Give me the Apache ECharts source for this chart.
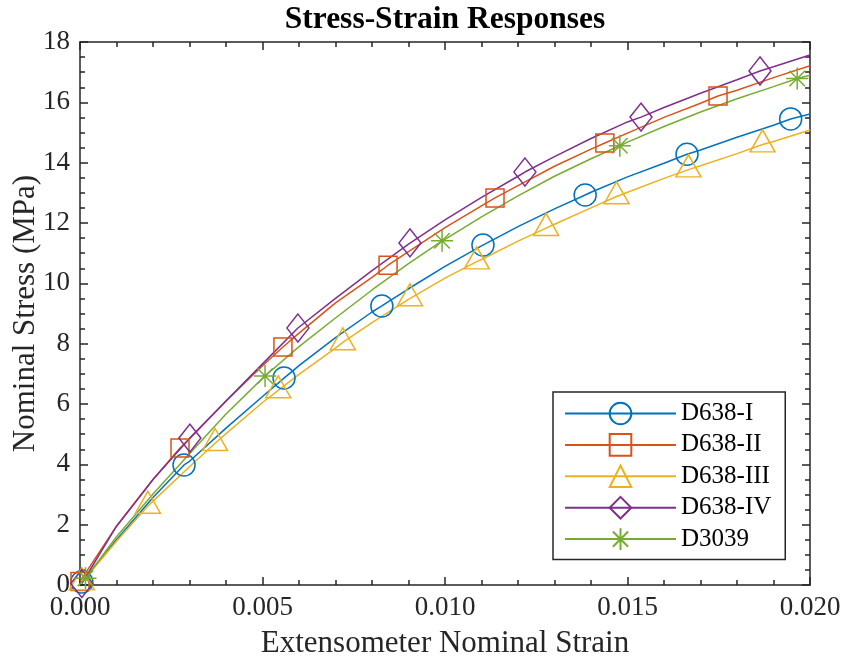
<!DOCTYPE html>
<html>
<head>
<meta charset="utf-8">
<script src="https://cdn.jsdelivr.net/npm/echarts@6/dist/echarts.min.js"></script>
<style>
html,body{margin:0;padding:0;background:#fff;}
#chart{width:844px;height:660px;}
</style>
</head>
<body>
<div id="chart"></div>
<script>
// ---- data ----
const strainGrid = [0.001,0.002,0.003,0.004,0.005,0.006,0.007,0.008,0.009,0.010,0.011,0.012,0.013,0.014,0.015,0.016,0.017,0.018,0.019,0.020];

const d638IStress   = [1.5,2.9,4.1,5.2,6.25,7.27,8.2,9.05,9.82,10.56,11.24,11.88,12.47,13.02,13.53,13.98,14.42,14.84,15.24,15.61];
const d638IMarkStrain = [0.00005,0.00285,0.00559,0.00827,0.01104,0.01384,0.01663,0.01947];
const d638IMarkStress = [0.1,3.98,6.86,9.25,11.27,12.93,14.28,15.45];

const d638IIStress  = [1.95,3.5,4.85,6.1,7.27,8.35,9.35,10.2,11.05,11.85,12.57,13.24,13.88,14.45,14.98,15.5,15.97,16.4,16.82,17.21];
const d638IIMarkStrain = [0.0,0.00274,0.00556,0.00844,0.01137,0.01438,0.01748];
const d638IIMarkStress = [0.12,4.54,7.89,10.6,12.83,14.65,16.21];

const d638IIIStress = [1.45,2.78,3.92,5.02,6.05,6.98,7.85,8.7,9.47,10.17,10.79,11.4,11.96,12.5,13.02,13.48,13.9,14.3,14.7,15.08];
const d638IIIMarkStrain = [0.00005,0.00186,0.0037,0.00543,0.0072,0.00904,0.01087,0.01277,0.0147,0.01667,0.0187];
const d638IIIMarkStress = [0.08,2.62,4.7,6.45,8.04,9.5,10.72,11.83,12.88,13.77,14.6];

const d638IVStress  = [1.95,3.5,4.86,6.1,7.33,8.5,9.5,10.42,11.3,12.1,12.85,13.55,14.2,14.8,15.35,15.83,16.3,16.75,17.18,17.57];
const d638IVMarkStrain = [0.00005,0.00301,0.00597,0.00904,0.01219,0.01537,0.01863];
const d638IVMarkStress = [0.05,4.87,8.52,11.34,13.69,15.51,17.04];

const d3039Stress   = [1.6,3.02,4.35,5.67,6.85,7.9,8.85,9.78,10.65,11.46,12.2,12.9,13.55,14.13,14.68,15.2,15.68,16.12,16.52,16.9];
const d3039MarkStrain = [0.00015,0.00507,0.00992,0.01479,0.01965];
const d3039MarkStress = [0.22,6.93,11.41,14.56,16.79];

const seriesNames = ['D638-I','D638-II','D638-III','D638-IV','D3039'];
const xTickValues = [0, 0.005, 0.010, 0.015, 0.020];
const yTickValues = [0,2,4,6,8,10,12,14,16,18];

// ---- build ----
function buildData(lineStress, markStrain, markStress){
  const pts = [];
  strainGrid.forEach((x,i)=>pts.push({value:[x,lineStress[i]], symbol:'none'}));
  markStrain.forEach((x,i)=>pts.push({value:[x,markStress[i]]}));
  pts.sort((a,b)=>a.value[0]-b.value[0]);
  return pts;
}
const colors = ['#0072BD','#D95319','#EDB120','#7E2F8E','#77AC30'];
const symbols = ['circle','rect','triangle','diamond','path://M0,-10L0,10M-10,0L10,0M-7.07,-7.07L7.07,7.07M-7.07,7.07L7.07,-7.07'];
const sizes = [22,18,[25,22],[22,28],22];
const offsets = [[0,0],[0,0],[0,-3.7],[0,0],[0,0]];
const datasets = [
  buildData(d638IStress,d638IMarkStrain,d638IMarkStress),
  buildData(d638IIStress,d638IIMarkStrain,d638IIMarkStress),
  buildData(d638IIIStress,d638IIIMarkStrain,d638IIIMarkStress),
  buildData(d638IVStress,d638IVMarkStrain,d638IVMarkStress),
  buildData(d3039Stress,d3039MarkStrain,d3039MarkStress)
];

const axisColor = '#262626';
const font = 'Liberation Serif';

function xAxisDef(pos, showLabel){
  return {
    type:'value', position:pos, min:0, max:0.02, interval:0.005,
    axisLine:{show:true, onZero:false, lineStyle:{color:axisColor, width:1.5}},
    axisTick:{show:true, inside:true, length:8, lineStyle:{color:axisColor, width:1.5}},
    minorTick:{show:true, splitNumber:5, length:5, lineStyle:{color:axisColor, width:1.5}},
    splitLine:{show:false},
    axisLabel:{show:showLabel, fontFamily:font, fontSize:27, color:axisColor, margin:9,
      formatter:v=>v.toFixed(3)},
    name: showLabel ? 'Extensometer Nominal Strain' : '',
    nameLocation:'middle', nameGap:43, nameMoveOverlap:false,
    nameTextStyle:{fontFamily:font, fontSize:31, color:axisColor}
  };
}
function yAxisDef(pos, showLabel){
  return {
    type:'value', position:pos, min:0, max:18, interval:2,
    axisLine:{show:true, onZero:false, lineStyle:{color:axisColor, width:1.5}},
    axisTick:{show:true, inside:true, length:8, lineStyle:{color:axisColor, width:1.5}},
    minorTick:{show:true, splitNumber:4, length:5, lineStyle:{color:axisColor, width:1.5}},
    splitLine:{show:false},
    axisLabel:{show:showLabel, fontFamily:font, fontSize:27, color:axisColor, margin:10},
    name: showLabel ? 'Nominal Stress (MPa)' : '',
    nameLocation:'middle', nameGap:39, nameRotate:90, nameMoveOverlap:false,
    nameTextStyle:{fontFamily:font, fontSize:31, color:axisColor}
  };
}

const chart = echarts.init(document.getElementById('chart'), null, {renderer:'canvas'});
chart.setOption({
  animation:false,
  backgroundColor:'#fff',
  title:{text:'Stress-Strain Responses', left:445, top:4, textAlign:'center', padding:0,
    textStyle:{fontFamily:font, fontSize:31.5, fontWeight:'bold', color:'#000'}},
  grid:{left:80, right:34, top:42, bottom:75, containLabel:false, outerBoundsMode:'none'},
  xAxis:[xAxisDef('bottom',true), xAxisDef('top',false)],
  yAxis:[yAxisDef('left',true), yAxisDef('right',false)],
  legend:{
    orient:'vertical', left:553, top:392,
    padding:[9,14,8,11],
    itemWidth:111, itemHeight:27, itemGap:6.4,
    borderColor:axisColor, borderWidth:1.5, backgroundColor:'#fff',
    textStyle:{fontFamily:font, fontSize:25, color:'#000'},
    data:seriesNames
  },
  series: seriesNames.map((n,i)=>({
    name:n, type:'line', xAxisIndex:0, yAxisIndex:0,
    data:datasets[i],
    symbol:symbols[i], symbolSize:sizes[i], symbolOffset:offsets[i],
    showSymbol:true, showAllSymbol:true, clip:false,
    lineStyle:{color:colors[i], width:1.5},
    itemStyle:{color:'rgba(0,0,0,0)', borderColor:colors[i], borderWidth:1.5},
    emphasis:{disabled:true}
  }))
});
</script>
</body>
</html>
